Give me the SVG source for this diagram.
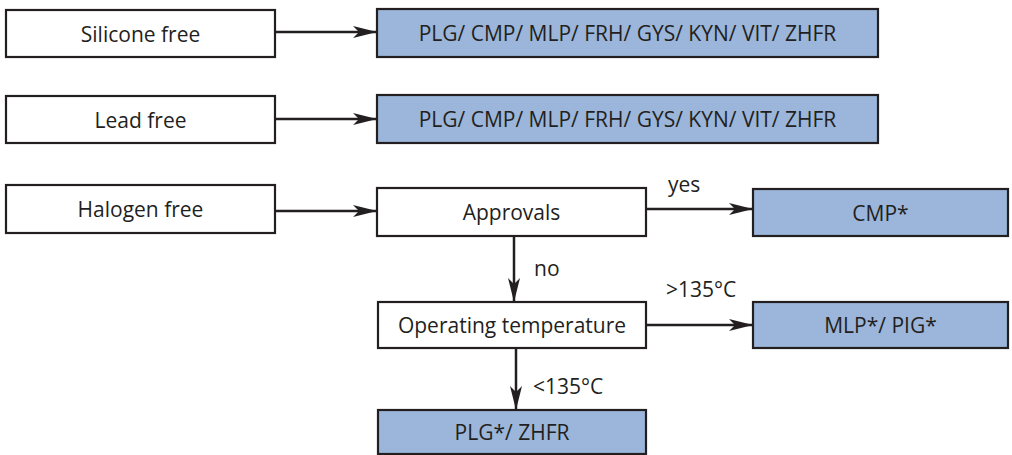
<svg xmlns="http://www.w3.org/2000/svg" width="1012" height="455" viewBox="0 0 1012 455">
<style>
.box{fill:#ffffff;stroke:#231f20;stroke-width:2.2}
.res{fill:#9bb6da;stroke:#231f20;stroke-width:2.2}
.t{font-family:"Open Sans","Liberation Sans",sans-serif;font-size:21px;fill:#231f20;text-anchor:middle;dominant-baseline:central}
.l{font-family:"Open Sans","Liberation Sans",sans-serif;font-size:21px;fill:#231f20}
.c{stroke:#231f20;stroke-width:2.5;fill:none;marker-end:url(#ah)}
</style>
<defs>
<marker id="ah" markerUnits="userSpaceOnUse" markerWidth="26" markerHeight="14" refX="24" refY="7" orient="auto">
<path d="M0,1 L24,7 L0,13 L6,7 Z" fill="#231f20"/>
</marker>
</defs>
<g id="n-silicone"><rect class="box" x="6" y="10" width="269" height="47"/><text class="t" x="140.5" y="33.5">Silicone free</text></g>
<g id="n-silicone-res"><rect class="res" x="377" y="9" width="501" height="48"/><text class="t" x="627.5" y="33">PLG/ CMP/ MLP/ FRH/ GYS/ KYN/ VIT/ ZHFR</text></g>
<g id="n-lead"><rect class="box" x="6" y="96" width="269" height="47"/><text class="t" x="140.5" y="119.5">Lead free</text></g>
<g id="n-lead-res"><rect class="res" x="377" y="95" width="501" height="48"/><text class="t" x="627.5" y="119">PLG/ CMP/ MLP/ FRH/ GYS/ KYN/ VIT/ ZHFR</text></g>
<g id="n-halogen"><rect class="box" x="6" y="185" width="269" height="48"/><text class="t" x="140.5" y="209">Halogen free</text></g>
<g id="n-approvals"><rect class="box" x="377" y="188" width="269" height="48"/><text class="t" x="511.5" y="212">Approvals</text></g>
<g id="n-cmp"><rect class="res" x="753" y="189" width="255" height="47"/><text class="t" x="880.5" y="212.5">CMP*</text></g>
<g id="n-optemp"><rect class="box" x="378" y="302" width="268" height="46"/><text class="t" x="512" y="325">Operating temperature</text></g>
<g id="n-mlp"><rect class="res" x="753" y="302" width="255" height="46"/><text class="t" x="880.5" y="325">MLP*/ PIG*</text></g>
<g id="n-plg"><rect class="res" x="378" y="410" width="268" height="44"/><text class="t" x="512" y="432">PLG*/ ZHFR</text></g>
<g id="connectors">
<path class="c" d="M275,32 H377"/>
<path class="c" d="M275,119 H377"/>
<path class="c" d="M275,211 H377"/>
<path class="c" d="M646,209 H753"/>
<path class="c" d="M514,236 V302"/>
<path class="c" d="M646,325 H753"/>
<path class="c" d="M516,348 V410"/>
<text class="l" x="668" y="192">yes</text>
<text class="l" x="534" y="276">no</text>
<text class="l" x="666" y="297">&gt;135°C</text>
<text class="l" x="533" y="394">&lt;135°C</text>
</g>
</svg>
